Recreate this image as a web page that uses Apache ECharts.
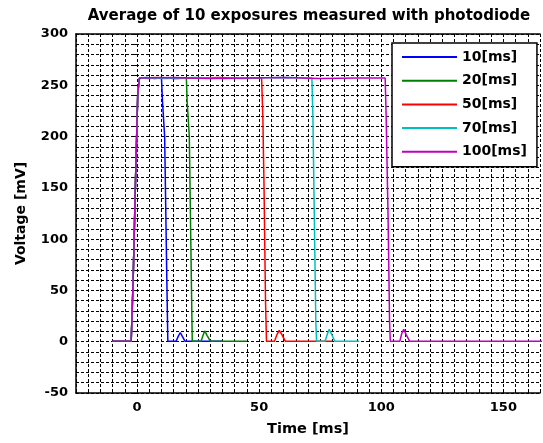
<!DOCTYPE html>
<html>
<head>
<meta charset="utf-8">
<script src="https://cdn.jsdelivr.net/npm/echarts@6/dist/echarts.min.js"></script>
<style>
  html, body { margin: 0; padding: 0; background: #fff; }
  #chart { width: 543px; height: 443px; }
</style>
</head>
<body>
<div id="chart"></div>
<script>
// exposure time labels and colours (MATLAB defaults)
const names = ['10[ms]', '20[ms]', '50[ms]', '70[ms]', '100[ms]'];
const colors = ['#0000ff', '#008000', '#ff0000', '#00bfbf', '#bf00bf'];

// [time ms, voltage mV]
const pd10 = [[-10,0.5],[-2.4,0.5],[-1.6,60],[-0.6,160],[0.3,243],[1,257],[4,257.5],[7,256.5],[10,257],
  [10.4,235],[11.3,200],[12.2,60],[12.6,0.5],[16,0.5],[16.8,5],[17.7,9],[18.6,5],[19.6,0.5],[25,0.5],[35,0.5]];
const pd20 = [[-10,0.5],[-2.4,0.5],[-1.6,60],[-0.6,160],[0.3,243],[1,257],[5,256.5],[10,257.5],[15,256.5],[20.2,257],
  [20.5,235],[21.4,200],[22.3,50],[22.6,0.5],[26.2,0.5],[27,6],[27.7,10.5],[28.7,6],[30,0.5],[38,0.5],[45,0.5]];
const pd50 = [[-10,0.5],[-2.4,0.5],[-1.6,60],[-0.6,160],[0.3,243],[1,257],[8,257.5],[16,256.5],[25,257],[34,257.5],[43,256.5],[51,257],
  [51.5,220],[52,150],[52.6,40],[53,0.5],[56.3,0.5],[57.3,7],[58.2,11],[59.3,7],[60.7,0.5],[70,0.5],[80,0.5]];
const pd70 = [[-10,0.5],[-2.4,0.5],[-1.6,60],[-0.6,160],[0.3,243],[1,257],[12,256.5],[24,257.5],[36,256.5],[48,257],[60,257.5],[71.6,257],
  [72,220],[72.6,120],[73.2,20],[73.5,0.5],[77,0.5],[78,8],[78.7,12],[79.7,7],[81,0.5],[86,0.5],[91,0.5]];
const pd100 = [[-10,0.5],[-2.4,0.5],[-1.6,60],[-0.6,160],[0.3,243],[1,257],[15,257.5],[30,256.5],[45,257],[60,257.5],[75,256.5],[90,257],[101.6,257],
  [102,220],[102.8,120],[103.4,20],[103.7,0.5],[107.6,0.5],[108.4,8],[109.2,12],[110.2,7],[111.6,0.5],[125,0.5],[140,0.5],[170,0.5]];
const seriesData = [pd10, pd20, pd50, pd70, pd100];

const font = 'DejaVu Sans';
const gridLine = { show: true, lineStyle: { color: '#000', type: [3, 2], width: 1 } };
const boxLine = { show: true, onZero: false, lineStyle: { color: '#000', width: 1.5 } };
const tick = { show: true, inside: true, length: 3, lineStyle: { color: '#000' } };

const chart = echarts.init(document.getElementById('chart'));

chart.setOption({
  animation: false,
  backgroundColor: '#fff',
  title: {
    text: 'Average of 10 exposures measured with photodiode',
    left: 304,
    textAlign: 'center',
    top: 4,
    textStyle: { fontFamily: font, fontWeight: 'bold', fontSize: 15, color: '#000' }
  },
  legend: {
    orient: 'vertical',
    left: 392,
    top: 43,
    padding: [7, 10, 8, 10],
    itemGap: 9.7,
    itemWidth: 55,
    itemHeight: 2,
    icon: 'rect',
    backgroundColor: '#fff',
    borderColor: '#000',
    borderWidth: 1.5,
    textStyle: { fontFamily: font, fontWeight: 'bold', fontSize: 14, color: '#000', lineHeight: 14 },
    data: names
  },
  grid: {
    left: 76,
    right: 0,
    top: 34,
    bottom: 50
  },
  xAxis: [{
    type: 'value',
    min: -25,
    max: 165,
    interval: 5,
    name: 'Time [ms]',
    nameLocation: 'middle',
    nameGap: 29,
    nameTextStyle: { fontFamily: font, fontWeight: 'bold', fontSize: 14.5, color: '#000' },
    axisLine: boxLine,
    axisTick: tick,
    axisLabel: {
      margin: 8,
      fontFamily: font, fontWeight: 'bold', fontSize: 13, color: '#000',
      formatter: v => (v % 50 === 0 ? String(v) : '')
    },
    splitLine: gridLine
  }, {
    type: 'value',
    position: 'top',
    min: -25,
    max: 165,
    interval: 5,
    axisLine: boxLine,
    axisTick: tick,
    axisLabel: { show: false },
    splitLine: { show: false }
  }],
  yAxis: [{
    type: 'value',
    min: -50,
    max: 300,
    interval: 10,
    name: 'Voltage [mV]',
    nameLocation: 'middle',
    nameGap: 48,
    nameTextStyle: { fontFamily: font, fontWeight: 'bold', fontSize: 14, color: '#000' },
    axisLine: boxLine,
    axisTick: tick,
    axisLabel: {
      margin: 8,
      fontFamily: font, fontWeight: 'bold', fontSize: 13, color: '#000',
      formatter: v => (v % 50 === 0 ? String(v) : '')
    },
    splitLine: gridLine
  }, {
    type: 'value',
    position: 'right',
    min: -50,
    max: 300,
    interval: 10,
    axisLine: { show: false },
    axisTick: tick,
    axisLabel: { show: false },
    splitLine: { show: false }
  }],
  series: names.map((name, i) => ({
    name: name,
    type: 'line',
    data: seriesData[i],
    symbol: 'none',
    color: colors[i],
    lineStyle: { width: 1.5, color: colors[i] }
  }))
});
</script>
</body>
</html>
